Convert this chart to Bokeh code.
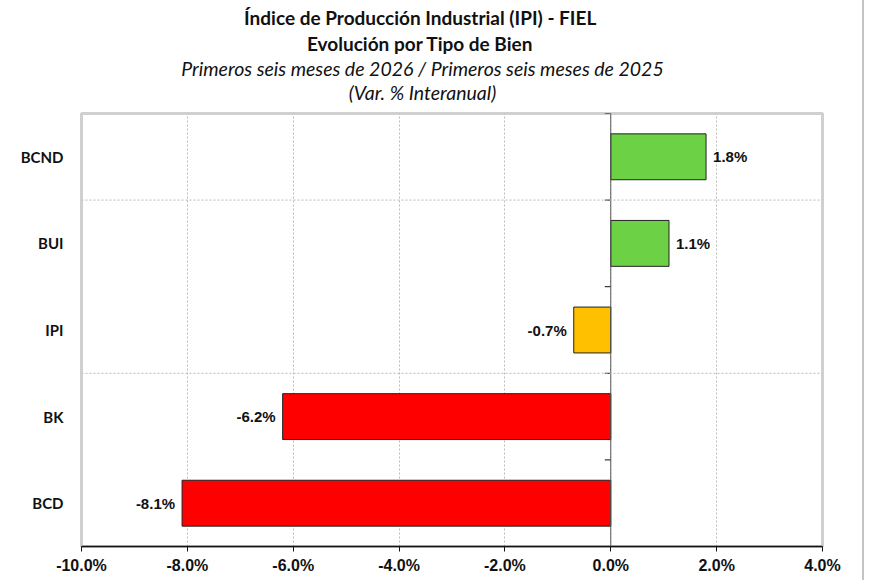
from bokeh.plotting import figure
from bokeh.layouts import column
from bokeh.models import (ColumnDataSource, FactorRange, Range1d, FixedTicker,
                          PrintfTickFormatter, Span)
from bokeh.core.properties import value
from bokeh.embed import file_html
from bokeh.resources import INLINE
import math

# Data: year-on-year % change by type of good (bottom to top)
categories = ["BCD", "BK", "IPI", "BUI", "BCND"]
variation = [-8.1, -6.2, -0.7, 1.1, 1.8]
bar_colors = ["#FF0000", "#FF0000", "#FFC000", "#6DD145", "#6DD145"]
x_ticks = [-10, -8, -6, -4, -2, 0, 2, 4]
title_text = [
    "Índice de Producción  Industrial (IPI) - FIEL",
    "Evolución  por Tipo de Bien",
    "Primeros seis meses de 2026 / Primeros seis meses de 2025",
    "(Var. % Interanual)",
]
title_style = ["bold", "bold", "italic", "italic"]
title_size = ["19px", "19px", "19.5px", "19.5px"]

W = 862          # content width (a 2px border follows on the right)
HEAD_H = 111     # height of the title block
CHART_H = 580 - HEAD_H
FRAME_L, FRAME_R = 81, 822   # plot-frame edges in page pixels

# ---- Title block; the column lines its frame up with the chart's frame,
# so its x range is expressed directly in page pixels ----
head = figure(width=W, height=HEAD_H, output_backend="svg", toolbar_location=None,
              x_range=Range1d(FRAME_L, FRAME_R), y_range=Range1d(HEAD_H, 0),
              x_axis_location=None, y_axis_location=None,
              min_border=0, min_border_left=FRAME_L, min_border_right=W - FRAME_R,
              outline_line_color=None)
head.grid.visible = False
head.text(x=[422] * 4, y=[17, 43, 68, 92], text=title_text,
          text_font_style=title_style, text_font_size=title_size,
          text_align="center", text_baseline="middle",
          text_font=value("Lato"), text_color="#111111")

# ---- Bar chart ----
src = ColumnDataSource(dict(
    cat=categories,
    val=variation,
    color=bar_colors,
    label=[f"{v:.1f}%" for v in variation],
    align=["left" if v >= 0 else "right" for v in variation],
    off=[7 if v >= 0 else -7 for v in variation],
))

p = figure(width=W, height=CHART_H, output_backend="svg", toolbar_location=None,
           y_range=FactorRange(*categories, range_padding=0),
           x_range=Range1d(-10, 4),
           min_border_left=FRAME_L, min_border_right=W - FRAME_R, min_border_top=2,
           min_border_bottom=34)

# Bars
p.hbar(y="cat", right="val", left=0, height=0.53, source=src,
       fill_color="color", line_color="#222222", line_width=1)

# Value labels next to each bar end
p.text(x="val", y="cat", text="label", source=src, text_align="align",
       text_baseline="middle", x_offset="off", text_font=value("Liberation Sans"),
       text_font_style="bold", text_font_size="15px", text_color="#111111")

# Zero axis with category-boundary ticks
p.add_layout(Span(location=0, dimension="height", line_color="#555555", line_width=1))
p.ray(x=[0] * 5, y=[1, 2, 3, 4, 5], length=6, length_units="screen",
      angle=math.pi, line_color="#111111", line_width=1)

# Horizontal dotted gridlines every two categories
for loc in [2, 4]:
    p.add_layout(Span(location=loc, dimension="width", line_color="#BBBBBB",
                      line_width=1, line_dash="2 2"))

# Grid / frame styling
p.ygrid.grid_line_color = None
p.xgrid.ticker = FixedTicker(ticks=x_ticks)
p.xgrid.grid_line_color = "#BBBBBB"
p.xgrid.grid_line_dash = "2 2"
p.outline_line_color = "#D0D0D0"
p.outline_line_width = 3

# X axis
p.xaxis.ticker = FixedTicker(ticks=x_ticks)
p.xaxis.formatter = PrintfTickFormatter(format="%.1f%%")
p.xaxis.axis_line_color = "#111111"
p.xaxis.axis_line_width = 1.5
p.xaxis.major_tick_line_color = "#111111"
p.xaxis.major_tick_out = 5
p.xaxis.major_tick_in = 0
p.xaxis.minor_tick_line_color = None
p.xaxis.major_label_text_font = "Liberation Sans"
p.xaxis.major_label_text_font_style = "bold"
p.xaxis.major_label_text_font_size = "16px"
p.xaxis.major_label_text_color = "#111111"
p.xaxis.major_label_standoff = 5

# Y axis (category names)
p.yaxis.axis_line_color = None
p.yaxis.major_tick_line_color = None
p.yaxis.minor_tick_line_color = None
p.yaxis.major_label_text_font = "Lato"
p.yaxis.major_label_text_font_style = "bold"
p.yaxis.major_label_text_font_size = "15px"
p.yaxis.major_label_text_color = "#111111"
p.yaxis.major_label_standoff = 12

page = column(head, p, spacing=0,
              styles={"border-right": "2px solid #C4C4C4"})

open("out.html", "w").write(file_html(page, INLINE))
